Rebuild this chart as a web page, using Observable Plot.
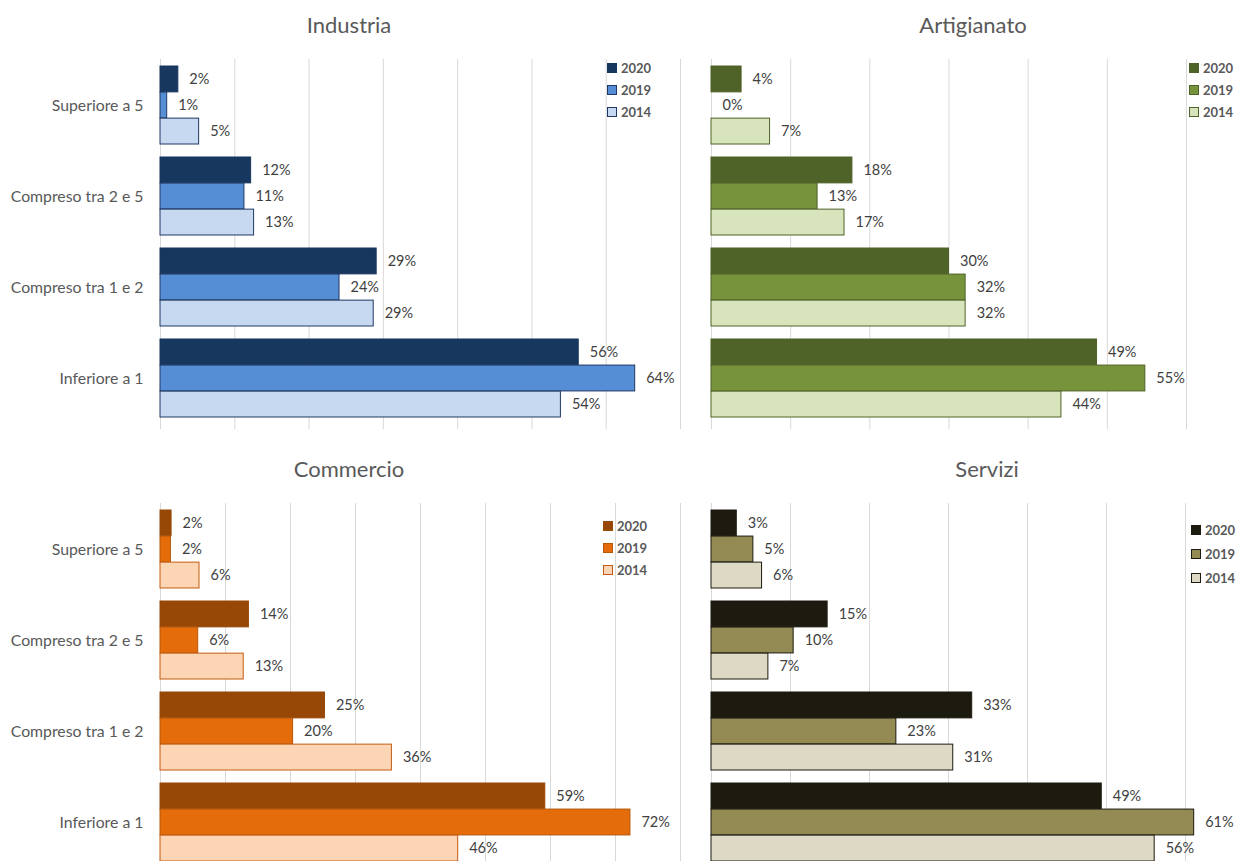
<!DOCTYPE html>
<html>
<head>
<meta charset="utf-8">
<script src="https://cdn.jsdelivr.net/npm/d3@7"></script>
<script src="https://cdn.jsdelivr.net/npm/@observablehq/plot@0.6"></script>
<style>
  html, body { margin: 0; padding: 0; background: #fff; }
  #wrap { position: relative; width: 1253px; height: 861px; overflow: hidden; background: #fff; font-family: Lato, "Open Sans", sans-serif; }
  .panel { position: absolute; }
  .title { position: absolute; font-size: 22px; color: #595959; transform: translate(-50%, -50%); white-space: nowrap; }
  .legend { position: absolute; font-size: 13px; font-weight: bold; color: #595959; }
  .legend .row { display: flex; align-items: center; height: 22px; }
  .legend .sw { width: 8px; height: 8px; margin-right: 4px; }
</style>
</head>
<body>
<div id="wrap"></div>
<script>
// ---- data ----
const categories = ["Superiore a 5", "Compreso tra 2 e 5", "Compreso tra 1 e 2", "Inferiore a 1"];
const years = ["2020", "2019", "2014"];

const industria2020 = [2.4, 12.2, 29.1, 56.3];
const industria2019 = [0.9, 11.3, 24.1, 63.9];
const industria2014 = [5.2, 12.6, 28.7, 53.9];

const artigianato2020 = [3.8, 17.8, 30.0, 48.7];
const artigianato2019 = [0.0, 13.4, 32.1, 54.8];
const artigianato2014 = [7.4, 16.8, 32.1, 44.2];

const commercio2020 = [1.7, 13.6, 25.3, 59.2];
const commercio2019 = [1.6, 5.8, 20.4, 72.3];
const commercio2014 = [6.0, 12.8, 35.6, 45.8];

const servizi2020 = [3.2, 14.7, 33.0, 49.4];
const servizi2019 = [5.3, 10.4, 23.4, 61.1];
const servizi2014 = [6.4, 7.2, 30.6, 56.1];

// ---- panels ----
const panels = [
  { title: "Industria", series: [industria2020, industria2019, industria2014], xMax: 70,
    fills: ["#17375e", "#558ed5", "#c6d9f1"], strokes: ["#17375e", "#1f3864", "#1f3864"],
    left: 0, top: 0, width: 700, height: 440, mL: 160, mR: 20, mT: 59, mB: 16, showY: true,
    titleX: 349, titleY: 24, legX: 607, legY: 57 },
  { title: "Artigianato", series: [artigianato2020, artigianato2019, artigianato2014], xMax: 60,
    fills: ["#4f6228", "#77933c", "#d8e4bc"], strokes: ["#4f6228", "#4f6228", "#4f6228"],
    left: 690, top: 0, width: 563, height: 440, mL: 21, mR: 67, mT: 59, mB: 16, showY: false,
    titleX: 973, titleY: 24, legX: 1189, legY: 57 },
  { title: "Commercio", series: [commercio2020, commercio2019, commercio2014], xMax: 80,
    fills: ["#974806", "#e46c0a", "#fcd5b5"], strokes: ["#974806", "#b65708", "#c55a11"],
    left: 0, top: 440, width: 700, height: 444, mL: 160, mR: 20, mT: 63, mB: 16, showY: true,
    titleX: 349, titleY: 468, legX: 603, legY: 515 },
  { title: "Servizi", series: [servizi2020, servizi2019, servizi2014], xMax: 70,
    fills: ["#1d1b10", "#948a54", "#ddd9c4"], strokes: ["#1d1b10", "#1d1b10", "#1d1b10"],
    left: 690, top: 440, width: 584, height: 444, mL: 21, mR: 10, mT: 63, mB: 16, showY: false,
    titleX: 987, titleY: 468, legX: 1191, legY: 518, legRow: 24 }
];

const wrap = document.getElementById("wrap");
const pIn = 0.143, pOut = pIn / 2;

panels.forEach(cfg => {
  const rows = [];
  years.forEach((yr, i) => cfg.series[i].forEach((v, j) => rows.push({ cat: categories[j], year: yr, i, v })));
  const innerH = cfg.height - cfg.mT - cfg.mB;
  const step = innerH / (categories.length - pIn + 2 * pOut);
  const bh = step * (1 - pIn) / years.length;
  const ticks = d3.range(0, cfg.xMax + 0.001, 10);

  const chart = Plot.plot({
    width: cfg.width, height: cfg.height,
    marginLeft: cfg.mL, marginRight: cfg.mR, marginTop: cfg.mT, marginBottom: cfg.mB,
    style: { fontFamily: "Lato, 'Open Sans', sans-serif", fontSize: "15.8px", color: "#595959", background: "transparent", overflow: "visible" },
    x: { domain: [0, cfg.xMax], axis: null },
    y: { domain: categories, paddingInner: pIn, paddingOuter: pOut, axis: cfg.showY ? "left" : null,
         tickSize: 0, tickPadding: 17, label: null },
    marks: [
      Plot.ruleX(ticks, { stroke: "#d9d9d9", strokeWidth: 1, insetBottom: -5 }),
      ...years.map((yr, i) => Plot.barX(rows.filter(d => d.i === i && d.v > 0), {
        x: "v", y: "cat", fill: cfg.fills[i], stroke: cfg.strokes[i], strokeWidth: 1,
        insetTop: i * bh, insetBottom: (years.length - 1 - i) * bh
      })),
      ...years.map((yr, i) => Plot.text(rows.filter(d => d.i === i), {
        x: "v", y: "cat", text: d => Math.round(d.v) + "%", dx: 11, dy: (i - 1) * bh,
        textAnchor: "start", lineAnchor: "middle", fill: "#404040", fontSize: 14.5
      }))
    ]
  });
  const holder = document.createElement("div");
  holder.className = "panel";
  holder.style.left = cfg.left + "px";
  holder.style.top = cfg.top + "px";
  chart.style.maxWidth = "none";
  holder.appendChild(chart);
  wrap.appendChild(holder);

  const t = document.createElement("div");
  t.className = "title";
  t.textContent = cfg.title;
  t.style.left = cfg.titleX + "px";
  t.style.top = cfg.titleY + "px";
  wrap.appendChild(t);

  const leg = document.createElement("div");
  leg.className = "legend";
  leg.style.left = cfg.legX + "px";
  leg.style.top = cfg.legY + "px";
  years.forEach((yr, i) => {
    const r = document.createElement("div");
    r.className = "row";
    if (cfg.legRow) r.style.height = cfg.legRow + "px";
    const sw = document.createElement("div");
    sw.className = "sw";
    sw.style.background = cfg.fills[i];
    sw.style.border = "1px solid " + cfg.strokes[i];
    const lab = document.createElement("span");
    lab.textContent = yr;
    r.appendChild(sw); r.appendChild(lab);
    leg.appendChild(r);
  });
  wrap.appendChild(leg);
});
</script>
</body>
</html>
